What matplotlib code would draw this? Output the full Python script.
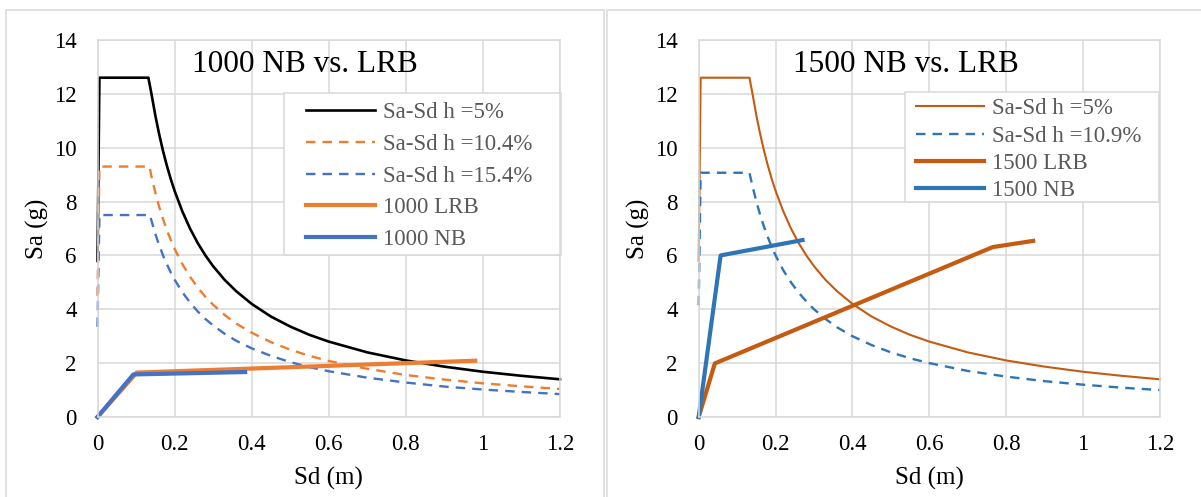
import matplotlib.pyplot as plt
from matplotlib.patches import Rectangle

plt.rcParams["font.family"] = ["Liberation Serif", "DejaVu Serif"]

# --- data ---
# left panel: 1000 NB vs. LRB
sd_5 = [0, 0.005, 0.132, 0.14, 0.15, 0.16, 0.17, 0.18, 0.19, 0.2, 0.22, 0.24, 0.26, 0.28, 0.3,
        0.33, 0.36, 0.4, 0.45, 0.5, 0.55, 0.6, 0.7, 0.8, 0.9, 1.0, 1.1, 1.2]
sa_5 = [5.8, 12.6, 12.6, 12.0, 11.2, 10.5, 9.88, 9.33, 8.84, 8.4, 7.64, 7.0, 6.46, 6.0, 5.6,
        5.09, 4.67, 4.2, 3.73, 3.36, 3.05, 2.8, 2.4, 2.1, 1.87, 1.68, 1.53, 1.4]

sd_104 = [0, 0.005, 0.135, 0.14, 0.15, 0.16, 0.17, 0.18, 0.19, 0.2, 0.22, 0.24, 0.26, 0.28, 0.3,
          0.33, 0.36, 0.4, 0.45, 0.5, 0.55, 0.6, 0.7, 0.8, 0.9, 1.0, 1.1, 1.2]
sa_104 = [4.5, 9.3, 9.3, 8.93, 8.33, 7.81, 7.35, 6.94, 6.58, 6.25, 5.68, 5.21, 4.81, 4.46, 4.17,
          3.79, 3.47, 3.13, 2.78, 2.5, 2.27, 2.08, 1.79, 1.56, 1.39, 1.25, 1.14, 1.04]

sd_154 = [0, 0.005, 0.136, 0.14, 0.15, 0.16, 0.17, 0.18, 0.19, 0.2, 0.22, 0.24, 0.26, 0.28, 0.3,
          0.33, 0.36, 0.4, 0.45, 0.5, 0.55, 0.6, 0.7, 0.8, 0.9, 1.0, 1.1, 1.2]
sa_154 = [3.35, 7.5, 7.5, 7.29, 6.8, 6.38, 6.0, 5.67, 5.37, 5.1, 4.64, 4.25, 3.92, 3.64, 3.4,
          3.09, 2.83, 2.55, 2.27, 2.04, 1.85, 1.7, 1.46, 1.28, 1.13, 1.02, 0.93, 0.85]

sd_lrb1000 = [0, 0.102, 0.98]
sa_lrb1000 = [0, 1.65, 2.09]
sd_nb1000 = [0, 0.093, 0.383]
sa_nb1000 = [0, 1.58, 1.67]

# right panel: 1500 NB vs. LRB
sd_109 = [0, 0.005, 0.132, 0.14, 0.15, 0.16, 0.17, 0.18, 0.19, 0.2, 0.22, 0.24, 0.26, 0.28, 0.3,
          0.33, 0.36, 0.4, 0.45, 0.5, 0.55, 0.6, 0.7, 0.8, 0.9, 1.0, 1.1, 1.2]
sa_109 = [4.15, 9.07, 9.07, 8.57, 8.0, 7.5, 7.06, 6.67, 6.32, 6.0, 5.45, 5.0, 4.62, 4.29, 4.0,
          3.64, 3.33, 3.0, 2.67, 2.4, 2.18, 2.0, 1.71, 1.5, 1.33, 1.2, 1.09, 1.0]

sd_lrb1500 = [0, 0.042, 0.765, 0.87]
sa_lrb1500 = [0, 1.99, 6.31, 6.54]
sd_nb1500 = [0, 0.057, 0.27]
sa_nb1500 = [0, 6.0, 6.57]

x_ticks = [0, 0.2, 0.4, 0.6, 0.8, 1.0, 1.2]
x_labels = ["0", "0.2", "0.4", "0.6", "0.8", "1", "1.2"]
y_ticks = [0, 2, 4, 6, 8, 10, 12, 14]

GRID = "#D9D9D9"
DASH = (0, (4, 3))

W, H = 1201, 497
fig = plt.figure(figsize=(W / 100, H / 100), dpi=100)

# panel frames
fig.patches.append(Rectangle((6 / W, -0.1), 598 / W, (H - 10) / H + 0.1,
                             transform=fig.transFigure, fill=False,
                             edgecolor=GRID, lw=1.1))
fig.patches.append(Rectangle((607 / W, -0.1), 600 / W, (H - 10) / H + 0.1,
                             transform=fig.transFigure, fill=False,
                             edgecolor=GRID, lw=1.1))

ax1 = fig.add_axes([97.5 / W, 1 - 417 / H, 462.5 / W, 377 / H])
ax2 = fig.add_axes([698.7 / W, 1 - 417 / H, 461.3 / W, 377 / H])


def style_axes(ax, title):
    ax.set_xlim(0, 1.2)
    ax.set_ylim(0, 14)
    ax.set_xticks(x_ticks)
    ax.set_xticklabels(x_labels)
    ax.set_yticks(y_ticks)
    ax.grid(True, color=GRID, lw=1.1)
    ax.set_axisbelow(True)
    for s in ax.spines.values():
        s.set_color(GRID)
        s.set_linewidth(1.1)
    ax.tick_params(axis="both", length=0, labelsize=16.5, colors="black")
    ax.tick_params(axis="x", pad=12)
    ax.tick_params(axis="y", pad=15)
    ax.set_xlabel("Sd (m)", fontsize=18)
    ax.set_ylabel("Sa (g)", fontsize=18)
    ax.xaxis.set_label_coords(0.5, -0.133)
    ax.yaxis.set_label_coords(-0.105, 0.5)
    ax.text(0.449, 0.916, title, transform=ax.transAxes, fontsize=22.5,
            ha="center", va="baseline")


def legend_box(ax, x0, y0, x1, y1, ax_left):
    # white legend frame, in pixel positions of the reference
    fx = lambda px: (px - ax_left) / 462
    fy = lambda py: (417 - py) / 377
    ax.add_patch(Rectangle((fx(x0), fy(y1)), fx(x1) - fx(x0), fy(y0) - fy(y1),
                           transform=ax.transAxes, facecolor="white",
                           edgecolor=GRID, lw=1.1, zorder=1.5, clip_on=False))


style_axes(ax1, "1000 NB vs. LRB")
style_axes(ax2, "1500 NB vs. LRB")

legend_box(ax1, 283.6, 93, 560, 255, 97.5)
legend_box(ax2, 905, 92, 1160, 202, 698.7)

# left
ax1.plot(sd_5, sa_5, color="black", lw=1.9, label="Sa-Sd h =5%", clip_on=False)
ax1.plot(sd_104, sa_104, color="#ED7D31", lw=1.7, linestyle=DASH, label="Sa-Sd h =10.4%", clip_on=False)
ax1.plot(sd_154, sa_154, color="#4472C4", lw=1.7, linestyle=DASH, label="Sa-Sd h =15.4%", clip_on=False)
ax1.plot(sd_lrb1000, sa_lrb1000, color="#ED7D31", lw=3.0, label="1000 LRB", clip_on=False)
ax1.plot(sd_nb1000, sa_nb1000, color="#4472C4", lw=3.0, label="1000 NB", clip_on=False)

# right
ax2.plot(sd_5, sa_5, color="#C55A11", lw=1.5, label="Sa-Sd h =5%", clip_on=False)
ax2.plot(sd_109, sa_109, color="#2E75B6", lw=1.7, linestyle=DASH, label="Sa-Sd h =10.9%", clip_on=False)
ax2.plot(sd_lrb1500, sa_lrb1500, color="#C55A11", lw=3.0, label="1500 LRB", clip_on=False)
ax2.plot(sd_nb1500, sa_nb1500, color="#2E75B6", lw=3.0, label="1500 NB", clip_on=False)

leg_kw = dict(loc="upper left", fontsize=16.5, labelcolor="#595959", frameon=False,
              handlelength=3.0, handletextpad=0.35, borderaxespad=0, borderpad=0)
ax1.legend(bbox_to_anchor=(0.4508, 0.8355), labelspacing=0.47, **leg_kw)
ax2.legend(bbox_to_anchor=(0.4704, 0.845), labelspacing=0.27, **leg_kw)

fig.savefig("out.png", dpi=100)
